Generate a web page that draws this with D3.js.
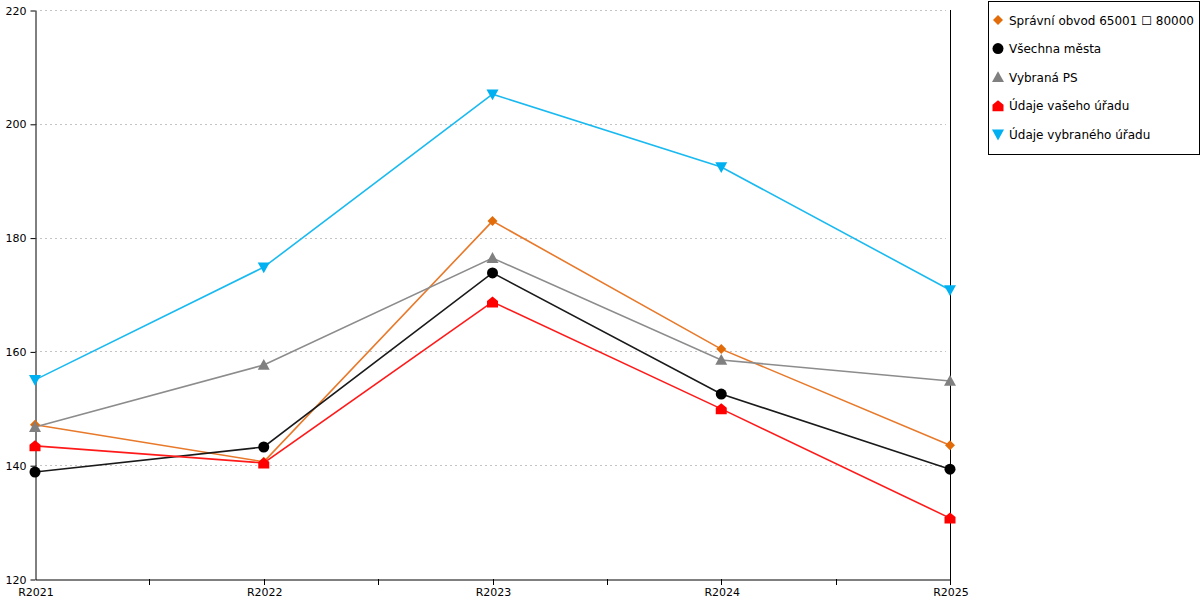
<!DOCTYPE html>
<html>
<head>
<meta charset="utf-8">
<script src="https://cdn.jsdelivr.net/npm/d3@7"></script>
<style>
  body { margin: 0; background: #fff; }
  svg { font-family: "DejaVu Sans", Verdana, sans-serif; }
</style>
</head>
<body>
<svg width="1200" height="600"></svg>
<script>
var years = ["R2021", "R2022", "R2023", "R2024", "R2025"];
var yTicks = [120, 140, 160, 180, 200, 220];

var seriesNames = [
    "Správní obvod 65001 \u2610 80000",
    "Všechna města",
    "Vybraná PS",
    "Údaje vašeho úřadu",
    "Údaje vybraného úřadu"
];
var spravniObvod = [147.1, 140.6, 182.9, 160.4, 143.5];
var vsechnaMesta = [138.8, 143.2, 173.8, 152.5, 139.3];
var vybranaPS = [146.7, 157.6, 176.4, 158.5, 154.8];
var vasehoUradu = [143.4, 140.4, 168.7, 149.9, 130.7];
var vybranehoUradu = [155.0, 174.8, 205.2, 192.4, 170.8];

var seriesValues = [spravniObvod, vsechnaMesta, vybranaPS, vasehoUradu, vybranehoUradu];
var colors = ["#E36C0A", "#000000", "#808080", "#FF0000", "#00B0F0"];
var lineColors = ["#E8792A", "#1a1a1a", "#8c8c8c", "#FF1a1a", "#1ABAF0"];
var shapes = ["diamond", "circle", "up", "house", "down"];

var svg = d3.select("svg");
var plotLeft = 35, plotRight = 950, plotTop = 10, plotBottom = 579;

var x = d3.scalePoint().domain(years).range([plotLeft, plotRight]);
var y = d3.scaleLinear().domain([120, 220]).range([plotBottom, plotTop]);

////////////////////////
// grid
////////////////////////

svg.selectAll(".grid")
    .data(yTicks.filter(function(d) { return d > 120; }))
    .enter()
    .append("line")
    .attr("x1", plotLeft)
    .attr("x2", plotRight - 4)
    .attr("y1", function(d) { return Math.round(y(d)) + 0.5; })
    .attr("y2", function(d) { return Math.round(y(d)) + 0.5; })
    .attr("stroke", "#c4c4c4")
    .attr("stroke-dasharray", "2,3");

////////////////////////
// axes
////////////////////////

var yAxis = svg.append("g")
    .attr("transform", "translate(" + (plotLeft + 0.5) + ",0.5)")
    .call(d3.axisLeft(y).tickValues(yTicks).tickSize(5).tickPadding(4).tickSizeOuter(0));

var xAxis = svg.append("g")
    .attr("transform", "translate(0.5," + (plotBottom + 0.5) + ")")
    .call(d3.axisBottom(x).tickSize(0).tickPadding(9));

// minor ticks between years
var mids = years.slice(1).map(function(d, i) { return (x(years[i]) + x(d)) / 2; });
svg.selectAll(".minor")
    .data(mids.concat(years.slice(1).map(function(d) { return x(d); })))
    .enter()
    .append("line")
    .attr("x1", function(d) { return Math.round(d) + 0.5; })
    .attr("x2", function(d) { return Math.round(d) + 0.5; })
    .attr("y1", plotBottom)
    .attr("y2", plotBottom + 6)
    .attr("stroke", "#000");

[yAxis, xAxis].forEach(function(g) {
    g.selectAll("text").attr("font-size", 11).attr("fill", "#000")
        .attr("font-family", "DejaVu Sans, Verdana, sans-serif");
    g.selectAll("line, path").attr("stroke", "#000");
});

// right edge line
svg.append("line")
    .attr("x1", plotRight + 0.5)
    .attr("x2", plotRight + 0.5)
    .attr("y1", plotTop)
    .attr("y2", plotBottom + 6)
    .attr("stroke", "#000");

////////////////////////
// markers
////////////////////////

function markerPath(shape, s) {
    if (shape == "diamond") return "M0," + (-s) + "L" + s + ",0L0," + s + "L" + (-s) + ",0Z";
    if (shape == "up") return "M0," + (-s) + "L" + s + "," + (s * 0.8) + "L" + (-s) + "," + (s * 0.8) + "Z";
    if (shape == "down") return "M0," + s + "L" + s + "," + (-s * 0.8) + "L" + (-s) + "," + (-s * 0.8) + "Z";
    if (shape == "house") return "M0," + (-s) + "L" + s + ",-1L" + s + "," + s + "L" + (-s) + "," + s + "L" + (-s) + ",-1Z";
    return d3.symbol().type(d3.symbolCircle).size(Math.PI * s * s)();
}
var markerSize = [5, 5.5, 6, 5.5, 6];

////////////////////////
// lines
////////////////////////

var line = d3.line()
    .x(function(d, i) { return x(years[i]); })
    .y(function(d) { return y(d); });

seriesValues.forEach(function(vals, k) {
    svg.append("path")
        .attr("d", line(vals))
        .attr("fill", "none")
        .attr("stroke", lineColors[k])
        .attr("stroke-width", 1.6);
});

seriesValues.forEach(function(vals, k) {
    svg.selectAll(".m" + k)
        .data(vals)
        .enter()
        .append("path")
        .attr("transform", function(d, i) { return "translate(" + x(years[i]) + "," + y(d) + ")"; })
        .attr("d", markerPath(shapes[k], markerSize[k]))
        .attr("fill", colors[k]);
});

////////////////////////
// legend
////////////////////////

var legend = svg.append("g");
legend.append("rect")
    .attr("x", 988.5)
    .attr("y", 1.5)
    .attr("width", 211)
    .attr("height", 153)
    .attr("fill", "#fff")
    .attr("stroke", "#000");

var items = legend.selectAll(".item")
    .data(seriesNames)
    .enter()
    .append("g")
    .attr("transform", function(d, i) { return "translate(998," + (20 + i * 28.6) + ")"; });

items.append("path")
    .attr("d", function(d, i) { return markerPath(shapes[i], markerSize[i]); })
    .attr("fill", function(d, i) { return colors[i]; });

items.append("text")
    .attr("x", 11)
    .attr("y", 4.5)
    .attr("font-size", 12)
    .attr("fill", "#000")
    .text(function(d) { return d; });
</script>
</body>
</html>
